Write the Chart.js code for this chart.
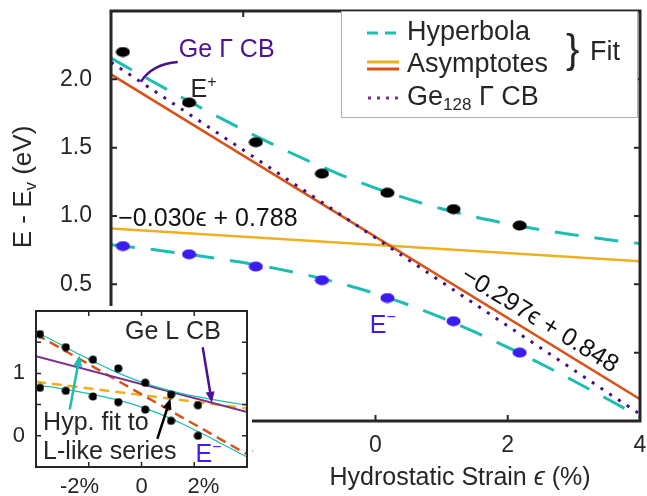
<!DOCTYPE html>
<html>
<head>
<meta charset="utf-8">
<script src="https://cdn.jsdelivr.net/npm/chart.js@4.4.1/dist/chart.umd.min.js"></script>
<style>
    html, body { margin: 0; padding: 0; background: #fff; }
    #quadro { position: relative; width: 647px; height: 496px; overflow: hidden; }
    #graph { position: absolute; left: 0; top: 0; }
    #caixaInset { position: absolute; left: 0; top: 306px; width: 252px; height: 190px; background: #fff; }
</style>
</head>
<body>
<div id="quadro">
    <canvas id="graph" width="647" height="496"></canvas>
    <div id="caixaInset"><canvas id="inset" width="252" height="190"></canvas></div>
</div>
<script>
const strainTicks = [-4, -2, 0, 2, 4];
const energyTicks = [-0.5, 0, 0.5, 1.0, 1.5, 2.0, 2.5];

const strain = [-3.82, -2.82, -1.81, -0.81, 0.18, 1.18, 2.18];
const ePlus = [2.20, 1.83, 1.54, 1.31, 1.17, 1.05, 0.93];
const eMinus = [0.78, 0.72, 0.63, 0.53, 0.40, 0.23, 0.00];

const fitStrain = [-4, -3.5, -3, -2.5, -2, -1.5, -1, -0.5, 0, 0.5, 1, 1.5, 2, 2.5, 3, 3.5, 4];
const hypUpper = [2.155, 2.019, 1.886, 1.756, 1.631, 1.512, 1.400, 1.296, 1.204, 1.123, 1.053, 0.993, 0.943, 0.899, 0.862, 0.828, 0.798];
const hypLower = [0.789, 0.762, 0.731, 0.697, 0.659, 0.615, 0.564, 0.503, 0.432, 0.350, 0.256, 0.152, 0.039, -0.081, -0.207, -0.337, -0.470];

const asymStrain = [-4, 4];
const asymFlat = [0.908, 0.668];   // −0.030ϵ + 0.788
const asymSteep = [2.036, -0.340]; // −0.297ϵ + 0.848

const gammaStrain = [-4, 0, 4];
const ge128Gamma = [2.125, 0.84, -0.45];

const insetStrainTicks = [-4, -2, 0, 2, 4];
const insetEnergyTicks = [-0.5, 0, 0.5, 1, 1.5, 2];

const insetStrain = [-3.85, -2.87, -1.84, -0.88, 0.14, 1.12, 2.14];
const lLike = [1.63, 1.42, 1.22, 1.08, 0.85, 0.66, 0.49];
const insetLower = [0.77, 0.72, 0.63, 0.54, 0.42, 0.24, 0.00];

const insetUpperFit = [1.66, 1.558, 1.446, 1.336, 1.229, 1.126, 1.029, 0.940, 0.860, 0.791, 0.732, 0.681, 0.636, 0.596, 0.559, 0.524, 0.491];
const insetLowerFit = [0.80, 0.788, 0.753, 0.717, 0.677, 0.633, 0.584, 0.527, 0.460, 0.383, 0.295, 0.200, 0.098, -0.008, -0.118, -0.229, -0.341];

const insetLineStrain = [-4, 4];
const geL = [1.277, 0.38];
const insetFlat = [0.868, 0.439];
const insetSteep = [1.627, -0.296];

// CORES
const ciano = "#1dbdb1";
const laranja = "#d95319";
const amarelo = "#edb120";
const roxoEscuro = "#3f0f8c";
const roxo = "#7e2f8e";
const azul = "#3c1cf0";
const cinza = "#262626";
const FAMILIA = '"Liberation Sans", Arial, sans-serif';

const ponto = (xs, ys) => xs.map((x, i) => ({ x, y: ys[i] }));
const fonte = p => `${p.italic ? "italic " : ""}${p.size}px ${FAMILIA}`;

function elipse(cor, w, h) {
    const c = document.createElement("canvas");
    c.width = w;
    c.height = h;
    const g = c.getContext("2d");
    g.fillStyle = cor;
    g.beginPath();
    g.ellipse(w / 2, h / 2, w / 2 - 0.5, h / 2 - 0.5, 0, 0, Math.PI * 2);
    g.fill();
    return c;
}

// escreve pedaços de texto em sequência (sub/sobrescritos)
function corrida(ctx, partes, x, y, alinhar, cor) {
    let total = 0;
    partes.forEach(p => {
        ctx.font = fonte(p);
        p.w = ctx.measureText(p.t).width;
        total += p.w;
    });
    let cx = alinhar === "center" ? x - total / 2 : x;
    ctx.fillStyle = cor;
    ctx.textAlign = "left";
    ctx.textBaseline = "middle";
    partes.forEach(p => {
        ctx.font = fonte(p);
        ctx.fillText(p.t, cx, y + (p.dy || 0));
        cx += p.w;
    });
}

function seta(ctx, x0, y0, x1, y1, cor, larg) {
    const ang = Math.atan2(y1 - y0, x1 - x0);
    const L = 11, W = 4.5;
    ctx.strokeStyle = cor;
    ctx.fillStyle = cor;
    ctx.lineWidth = larg;
    ctx.beginPath();
    ctx.moveTo(x0, y0);
    ctx.lineTo(x1 - L * 0.8 * Math.cos(ang), y1 - L * 0.8 * Math.sin(ang));
    ctx.stroke();
    ctx.beginPath();
    ctx.moveTo(x1, y1);
    ctx.lineTo(x1 - L * Math.cos(ang) + W * Math.sin(ang), y1 - L * Math.sin(ang) - W * Math.cos(ang));
    ctx.lineTo(x1 - L * Math.cos(ang) - W * Math.sin(ang), y1 - L * Math.sin(ang) + W * Math.cos(ang));
    ctx.closePath();
    ctx.fill();
}

// MOLDURA COM TICKS PARA DENTRO
const moldura = {
    id: "moldura",
    afterDatasetsDraw(chart, args, opts) {
        const { ctx, chartArea: a, scales: { x, y } } = chart;
        ctx.save();
        ctx.strokeStyle = cinza;
        ctx.lineWidth = opts.tickWidth;
        ctx.beginPath();
        x.ticks.forEach(t => {
            if (t.value <= x.min || t.value >= x.max) return;
            const p = x.getPixelForValue(t.value);
            ctx.moveTo(p, a.bottom); ctx.lineTo(p, a.bottom - opts.len);
            ctx.moveTo(p, a.top); ctx.lineTo(p, a.top + opts.len);
        });
        y.ticks.forEach(t => {
            if (t.value <= y.min || t.value >= y.max) return;
            const p = y.getPixelForValue(t.value);
            ctx.moveTo(a.left, p); ctx.lineTo(a.left + opts.len, p);
            ctx.moveTo(a.right, p); ctx.lineTo(a.right - opts.len, p);
        });
        ctx.stroke();
        ctx.lineWidth = opts.width;
        ctx.strokeRect(a.left, a.top, a.right - a.left, a.bottom - a.top);
        ctx.restore();
    },
};

// TEXTOS, LEGENDA E TÍTULOS DO GRÁFICO PRINCIPAL
const anotacoes = {
    id: "anotacoes",
    afterDraw(chart) {
        const { ctx, scales: { x, y } } = chart;
        const px = v => x.getPixelForValue(v);
        const py = v => y.getPixelForValue(v);
        ctx.save();

        // Ge Γ CB
        corrida(ctx, [{ t: "Ge Γ CB", size: 25 }], px(-2.25), py(2.215), "center", "#4b1296");
        ctx.strokeStyle = "#4b1296";
        ctx.lineWidth = 2.5;
        ctx.beginPath();
        ctx.moveTo(px(-2.99), py(2.127));
        ctx.quadraticCurveTo(px(-3.38), py(2.112), px(-3.55), py(1.981));
        ctx.stroke();

        // E+ e E-
        corrida(ctx, [{ t: "E", size: 25 }, { t: "+", size: 16, dy: -8 }], px(-2.6), py(1.92), "center", cinza);
        corrida(ctx, [{ t: "E", size: 25 }, { t: "−", size: 16, dy: -8 }], px(0.11), py(0.196), "center", azul);

        // equações das assíntotas
        corrida(ctx, [{ t: "−0.030ϵ + 0.788", size: 25 }], px(-3.89), py(0.975), "left", "#111");
        const ang = Math.atan2(py(asymSteep[1]) - py(asymSteep[0]), px(asymStrain[1]) - px(asymStrain[0]));
        ctx.save();
        ctx.translate(px(2.48), py(0.235));
        ctx.rotate(ang);
        corrida(ctx, [{ t: "−0.297ϵ + 0.848", size: 25 }], 0, 0, "center", "#111");
        ctx.restore();

        // títulos dos eixos
        corrida(ctx, [{ t: "Hydrostatic Strain ", size: 25 }, { t: "ϵ", size: 25, italic: true }, { t: " (%)", size: 25 }], 460, 478, "center", cinza);
        ctx.save();
        ctx.translate(24, 187);
        ctx.rotate(-Math.PI / 2);
        corrida(ctx, [{ t: "E - E", size: 26 }, { t: "v", size: 17, dy: 7 }, { t: " (eV)", size: 26 }], 0, 0, "center", cinza);
        ctx.restore();

        // legenda
        ctx.fillStyle = "#fff";
        ctx.fillRect(341, 11, 297, 107);
        ctx.strokeStyle = "#b0b0b0";
        ctx.lineWidth = 1;
        ctx.strokeRect(341.5, 11.5, 296, 106);

        ctx.lineWidth = 3;
        ctx.strokeStyle = ciano;
        ctx.setLineDash([11, 7]);
        ctx.beginPath(); ctx.moveTo(367, 33); ctx.lineTo(399, 33); ctx.stroke();
        ctx.setLineDash([]);
        ctx.strokeStyle = amarelo;
        ctx.beginPath(); ctx.moveTo(367, 62); ctx.lineTo(399, 62); ctx.stroke();
        ctx.strokeStyle = laranja;
        ctx.beginPath(); ctx.moveTo(367, 69); ctx.lineTo(399, 69); ctx.stroke();
        ctx.strokeStyle = roxo;
        ctx.setLineDash([3, 6]);
        ctx.beginPath(); ctx.moveTo(368, 98); ctx.lineTo(399, 98); ctx.stroke();
        ctx.setLineDash([]);

        corrida(ctx, [{ t: "Hyperbola", size: 27 }], 407, 33, "left", cinza);
        corrida(ctx, [{ t: "Asymptotes", size: 27 }], 407, 65, "left", cinza);
        corrida(ctx, [{ t: "Ge", size: 27 }, { t: "128", size: 17, dy: 7 }, { t: " Γ CB", size: 27 }], 407, 98, "left", cinza);
        ctx.font = `40px ${FAMILIA}`;
        ctx.fillStyle = cinza;
        ctx.textAlign = "left";
        ctx.textBaseline = "alphabetic";
        ctx.fillText("}", 566, 63);
        corrida(ctx, [{ t: "Fit", size: 27 }], 590, 53, "left", cinza);

        ctx.restore();
    },
};

// TEXTOS E SETAS DO INSET
const anotacoesInset = {
    id: "anotacoesInset",
    afterDraw(chart) {
        const { ctx, scales: { x, y } } = chart;
        const px = v => x.getPixelForValue(v);
        const py = v => y.getPixelForValue(v);
        ctx.save();
        corrida(ctx, [{ t: "Ge L CB", size: 25 }], px(1.19), py(1.655), "center", cinza);
        seta(ctx, px(2.32), py(1.42), px(2.67), py(0.53), "#4b1296", 2.5);
        seta(ctx, px(-2.72), py(0.42), px(-2.34), py(1.29), ciano, 2.5);
        seta(ctx, px(0.6), py(-0.05), px(1.1), py(0.6), "#000", 2.5);
        corrida(ctx, [{ t: "Hyp. fit to", size: 25 }], px(-3.73), py(0.21), "left", cinza);
        corrida(ctx, [{ t: "L-like series", size: 25 }], px(-3.73), py(-0.26), "left", cinza);
        corrida(ctx, [{ t: "E", size: 25 }, { t: "−", size: 16, dy: -8 }], px(2.05), py(-0.31), "left", azul);
        ctx.restore();
    },
};

const escalaComum = (min, max, ticks, largura, altura, rotulo, tamanho, pad) => ({
    type: "linear",
    min,
    max,
    afterBuildTicks: s => { s.ticks = ticks.map(v => ({ value: v })); },
    afterFit: s => {
        if (largura) s.width = largura;
        if (altura) s.height = altura;
        s.paddingLeft = 0; s.paddingRight = 0; s.paddingTop = 0; s.paddingBottom = 0;
    },
    grid: { display: false, drawTicks: false },
    border: { display: false },
    ticks: {
        autoSkip: false,
        maxRotation: 0,
        padding: pad,
        color: cinza,
        font: { size: tamanho, family: FAMILIA },
        callback: rotulo,
    },
});

// GRÁFICO PRINCIPAL
new Chart(document.getElementById("graph"), {
    type: "scatter",
    data: {
        datasets: [
            { label: "E+", data: ponto(strain, ePlus), pointStyle: elipse("#000", 15, 11), pointRadius: 6 },
            { label: "E-", data: ponto(strain, eMinus), pointStyle: elipse(azul, 15, 11), pointRadius: 6 },
            { label: "Hyperbola +", data: ponto(fitStrain, hypUpper), showLine: true, pointRadius: 0, borderColor: ciano, borderWidth: 3, borderDash: [24, 16], cubicInterpolationMode: "monotone" },
            { label: "Hyperbola -", data: ponto(fitStrain, hypLower), showLine: true, pointRadius: 0, borderColor: ciano, borderWidth: 3, borderDash: [24, 16], cubicInterpolationMode: "monotone" },
            { label: "Ge128 Γ CB", data: ponto(gammaStrain, ge128Gamma), showLine: true, pointRadius: 0, borderColor: roxoEscuro, borderWidth: 3, borderDash: [3, 7.5] },
            { label: "Asymptote steep", data: ponto(asymStrain, asymSteep), showLine: true, pointRadius: 0, borderColor: laranja, borderWidth: 2.5 },
            { label: "Asymptote flat", data: ponto(asymStrain, asymFlat), showLine: true, pointRadius: 0, borderColor: amarelo, borderWidth: 2.5 },
        ],
    },
    options: {
        responsive: false,
        animation: false,
        devicePixelRatio: 1,
        layout: { padding: { left: 0, top: 11, right: 6, bottom: 0 } },
        scales: {
            x: escalaComum(-4, 4, strainTicks, 0, 75, v => String(v), 23, 11),
            y: escalaComum(-0.5, 2.5, energyTicks, 111, 0, v => (v >= 2.5 ? "" : v.toFixed(1)), 23, 19),
        },
        plugins: {
            legend: { display: false },
            tooltip: { enabled: false },
            moldura: { width: 3, tickWidth: 2, len: 6 },
        },
    },
    plugins: [moldura, anotacoes],
});

// INSET
new Chart(document.getElementById("inset"), {
    type: "scatter",
    data: {
        datasets: [
            { label: "L-like", data: ponto(insetStrain, lLike), pointStyle: elipse("#000", 9, 9), pointRadius: 4 },
            { label: "lower", data: ponto(insetStrain, insetLower), pointStyle: elipse("#000", 9, 9), pointRadius: 4 },
            { label: "fit +", data: ponto(fitStrain, insetUpperFit), showLine: true, pointRadius: 0, borderColor: ciano, borderWidth: 1.2, cubicInterpolationMode: "monotone" },
            { label: "fit -", data: ponto(fitStrain, insetLowerFit), showLine: true, pointRadius: 0, borderColor: ciano, borderWidth: 1.2, cubicInterpolationMode: "monotone" },
            { label: "Ge L CB", data: ponto(insetLineStrain, geL), showLine: true, pointRadius: 0, borderColor: roxo, borderWidth: 2 },
            { label: "steep", data: ponto(insetLineStrain, insetSteep), showLine: true, pointRadius: 0, borderColor: laranja, borderWidth: 2.5, borderDash: [10, 6] },
            { label: "flat", data: ponto(insetLineStrain, insetFlat), showLine: true, pointRadius: 0, borderColor: amarelo, borderWidth: 2.5, borderDash: [10, 6] },
        ],
    },
    options: {
        responsive: false,
        animation: false,
        devicePixelRatio: 1,
        layout: { padding: { left: 0, top: 2, right: 3, bottom: 0 } },
        scales: {
            x: escalaComum(-4, 4, insetStrainTicks, 0, 29, v => (v === 0 ? "0" : v === -2 ? "-2%   " : v === 2 ? "   2%" : ""), 22, 7),
            y: escalaComum(-0.5, 2, insetEnergyTicks, 36, 0, v => (v === 0 || v === 1 ? String(v) : ""), 22, 11),
        },
        plugins: {
            legend: { display: false },
            tooltip: { enabled: false },
            moldura: { width: 2, tickWidth: 1.5, len: 5 },
        },
    },
    plugins: [moldura, anotacoesInset],
});
</script>
</body>
</html>
